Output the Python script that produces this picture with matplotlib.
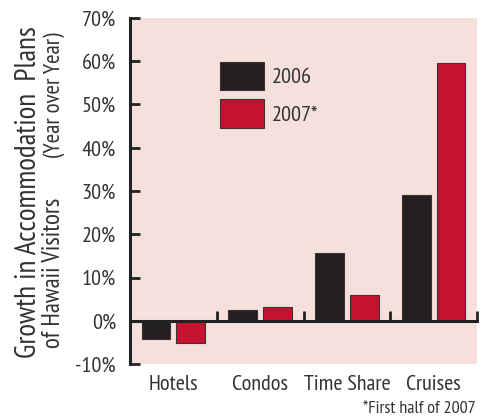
import numpy as np
import matplotlib
matplotlib.use("Agg")
import matplotlib.pyplot as plt

plt.rcParams['font.family'] = ['PT Sans Narrow', 'DejaVu Sans']

categorias = ['Hotels', 'Condos', 'Time Share', 'Cruises']
serie_2006 = [-4.2, 2.5, 15.6, 29.1]
serie_2007 = [-5.1, 3.2, 5.9, 59.6]
etiquetas = ['2006', '2007*']
yticks = [-10, 0, 10, 20, 30, 40, 50, 60, 70]

negro = '#231f20'
rojo = '#c41230'
fondo = '#f6e0db'
texto = '#333333'

W, H = 491, 419
fig = plt.figure(figsize=(W / 100, H / 100), dpi=100)
ax = fig.add_axes([130 / W, 55 / H, 347 / W, 346 / H])
ax.set_facecolor(fondo)

x = np.arange(len(categorias))
ancho = 0.33
ax.bar(x - 0.2, serie_2006, ancho, color=negro, edgecolor='#3a3234', linewidth=0.8,
       label=etiquetas[0], zorder=3)
ax.bar(x + 0.2, serie_2007, ancho, color=rojo, edgecolor='#3a3234', linewidth=0.8,
       label=etiquetas[1], zorder=3)

ax.set_xlim(-0.5, 3.5)
ax.set_ylim(-10, 70)
ax.set_yticks(yticks)
ax.set_yticklabels([f'{v}%' for v in yticks])

for s in ['top', 'right']:
    ax.spines[s].set_visible(False)
ax.spines['left'].set_linewidth(2.2)
ax.spines['left'].set_color('#222222')
ax.spines['bottom'].set_position(('data', 0))
ax.spines['bottom'].set_linewidth(2.2)
ax.spines['bottom'].set_color('#222222')
ax.spines['bottom'].set_zorder(4)

ax.tick_params(axis='y', direction='in', length=7, width=2, color='#222222',
               labelsize=16, labelcolor=texto, pad=10)
# marcas entre categorias sobre la linea del cero
ax.set_xticks(x + 0.5, minor=True)
ax.tick_params(axis='x', which='minor', direction='in', length=7, width=2, color='#222222')
ax.set_xticks(x)
ax.set_xticklabels(categorias)
ax.tick_params(axis='x', which='major', length=0, pad=39, labelsize=16, labelcolor=texto)

ax.legend(loc='upper left', bbox_to_anchor=(0.259, 0.873), frameon=False,
          fontsize=16, handlelength=2.0, handleheight=1.6, labelspacing=0.4,
          handletextpad=0.35, borderpad=0, borderaxespad=0, labelcolor=texto)

# titulo del eje y en dos lineas
fig.text(36 / W, 1 - 358 / H, 'Growth in Accommodation  Plans', rotation=90,
         rotation_mode='anchor', ha='left', va='baseline', fontsize=21, color=texto)
fig.text(60 / W, 1 - 348 / H, 'of Hawaii Visitors', rotation=90,
         rotation_mode='anchor', ha='left', va='baseline', fontsize=18, color=texto)
fig.text(60 / W, 1 - 32 / H, '(Year over Year)', rotation=90,
         rotation_mode='anchor', ha='right', va='baseline', fontsize=16.5, color=texto)

fig.text(476 / W, 1 - 409 / H, '*First half of 2007', ha='right', va='center',
         fontsize=13, color=texto)

fig.savefig('out.png', dpi=100)
